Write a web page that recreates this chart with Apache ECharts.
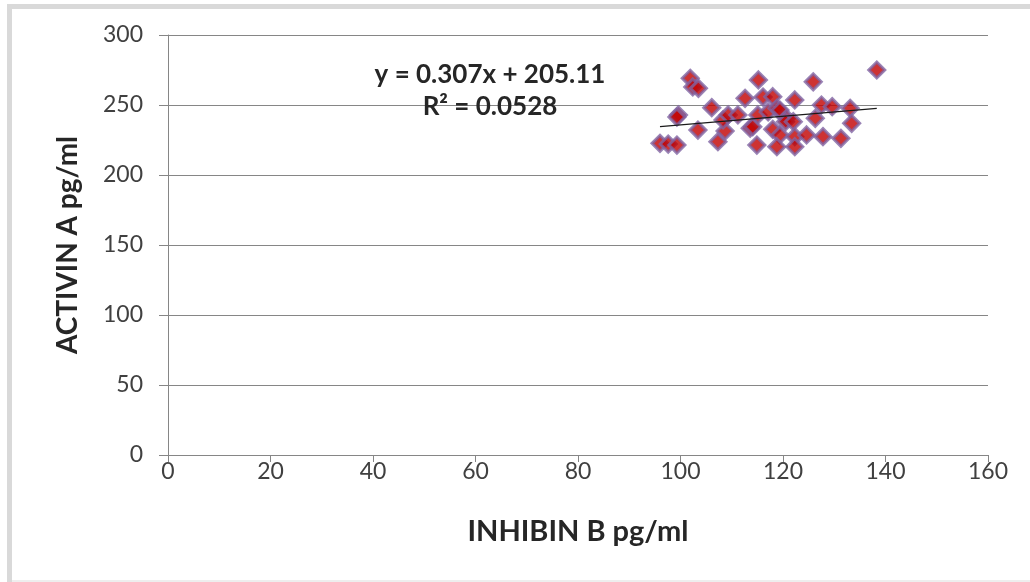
<!DOCTYPE html>
<html>
<head>
<meta charset="utf-8">
<script src="https://cdn.jsdelivr.net/npm/echarts@6/dist/echarts.min.js"></script>
<style>
  html, body { margin: 0; padding: 0; background: #ffffff; }
  #chart { width: 1030px; height: 582px; }
</style>
</head>
<body>
<div id="chart"></div>
<script>
// Inhibin B vs Activin A measurements (pg/ml)
const inhibinB = [
  96.0, 97.6, 99.3, 99.6, 99.3, 101.9, 102.4, 103.5, 103.4, 106.1,
  107.3, 108.7, 108.3, 109.3, 111.2, 112.6, 113.6, 114.1, 114.9, 115.2,
  115.1, 116.1, 117.1, 118.0, 118.8, 118.0, 119.4, 119.4, 118.8, 120.7,
  120.5, 122.0, 122.3, 122.3, 122.3, 124.6, 125.9, 126.3, 127.5, 127.8,
  129.6, 131.3, 133.1, 133.4, 138.3
];
const activinA = [
  222.6, 222.1, 221.4, 242.9, 241.4, 269.1, 262.9, 261.9, 232.1, 248.1,
  223.8, 231.4, 239.3, 242.9, 242.9, 254.8, 233.4, 234.5, 221.4, 267.9,
  242.9, 255.7, 245.0, 255.9, 247.6, 232.6, 228.6, 246.4, 220.2, 240.5,
  238.1, 238.1, 253.6, 227.4, 220.2, 228.6, 266.6, 240.5, 250.0, 227.4,
  248.8, 226.2, 247.6, 236.9, 275.0
];

// Linear trend reported for the data
const slope = 0.307;
const intercept = 205.11;
const rSquared = 0.0528;

const xTicks = { min: 0, max: 160, step: 20 };
const yTicks = { min: 0, max: 300, step: 50 };

const points = inhibinB.map((x, i) => [x, activinA[i]]);
const xLo = Math.min(...inhibinB);
const xHi = Math.max(...inhibinB);
const trend = [[xLo, slope * xLo + intercept], [xHi, slope * xHi + intercept]];

const axisGray = '#868686';
const textFont = 'Lato, "Open Sans", sans-serif';

const chart = echarts.init(document.getElementById('chart'), null, { renderer: 'canvas' });
chart.setOption({
  backgroundColor: '#ffffff',
  animation: false,
  grid: { left: 168, right: 42, top: 35, bottom: 127, containLabel: false, outerBoundsMode: 'none' },
  xAxis: {
    type: 'value',
    min: xTicks.min, max: xTicks.max, interval: xTicks.step,
    name: 'INHIBIN B pg/ml',
    nameLocation: 'middle',
    nameGap: 62,
    nameTextStyle: { fontFamily: textFont, fontWeight: 'bold', fontSize: 29, color: '#262626' },
    axisLine: { show: true, onZero: false, lineStyle: { color: axisGray, width: 1 } },
    axisTick: { show: true, length: 7, lineStyle: { color: axisGray } },
    axisLabel: { fontFamily: textFont, fontSize: 23, color: '#404040', margin: 5 },
    splitLine: { show: false }
  },
  yAxis: {
    type: 'value',
    min: yTicks.min, max: yTicks.max, interval: yTicks.step,
    name: 'ACTIVIN A pg/ml',
    nameLocation: 'middle',
    nameGap: 86,
    nameTextStyle: { fontFamily: textFont, fontWeight: 'bold', fontSize: 28, color: '#262626' },
    axisLine: { show: true, lineStyle: { color: axisGray, width: 1 } },
    axisTick: { show: true, length: 9, lineStyle: { color: axisGray } },
    axisLabel: { fontFamily: textFont, fontSize: 23, color: '#404040', margin: 25 },
    splitLine: { show: true, lineStyle: { color: axisGray, width: 1 } }
  },
  series: [
    {
      type: 'scatter',
      data: points,
      symbol: 'diamond',
      symbolSize: 16,
      itemStyle: { color: '#C00000', borderColor: '#8064A2', borderWidth: 3 },
      z: 3
    },
    {
      type: 'line',
      data: trend,
      symbol: 'none',
      lineStyle: { color: '#1a1a1a', width: 1.3 },
      z: 4
    }
  ],
  graphic: [
    { type: 'rect', left: 7, top: 4, shape: { width: 1023, height: 5 }, style: { fill: '#d9d9d9' }, z: 0 },
    { type: 'rect', left: 7, top: 4, shape: { width: 5, height: 578 }, style: { fill: '#d9d9d9' }, z: 0 },
    { type: 'rect', left: 12, top: 580, shape: { width: 1018, height: 2 }, style: { fill: '#eeeeee' }, z: 0 },
    {
      type: 'text', x: 490, y: 75, z: 10,
      style: {
        text: 'y = ' + slope + 'x + ' + intercept.toFixed(2),
        fontFamily: textFont, fontWeight: 'bold', fontSize: 26, fill: '#262626',
        align: 'center', verticalAlign: 'middle'
      }
    },
    {
      type: 'text', x: 490, y: 107, z: 10,
      style: {
        text: 'R² = ' + rSquared,
        fontFamily: textFont, fontWeight: 'bold', fontSize: 26, fill: '#262626',
        align: 'center', verticalAlign: 'middle'
      }
    }
  ]
});
</script>
</body>
</html>
